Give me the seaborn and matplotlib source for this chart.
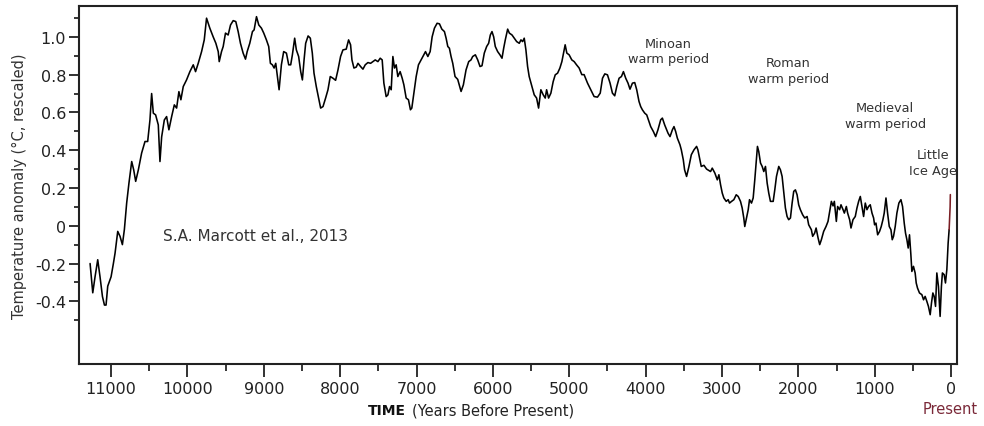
import matplotlib
matplotlib.use("Agg")
import matplotlib.pyplot as plt
import seaborn as sns
import pandas as pd
from matplotlib.ticker import FixedLocator

# ---------------- data (years before present, temperature anomaly) ----------------
years = [
    11275, 11240, 11210, 11175, 11145, 11113, 11087, 11066, 11044, 11000,
    10970, 10948, 10913, 10883, 10852, 10826, 10796, 10766, 10730, 10704,
    10678, 10643, 10600, 10556, 10521, 10491, 10469, 10447, 10417, 10382,
    10360, 10338, 10303, 10273, 10243, 10207, 10172, 10142, 10112, 10086,
    10055, 10012, 9968, 9924, 9894, 9859, 9815, 9780, 9750, 9707,
    9663, 9628, 9597, 9584, 9554, 9532, 9502, 9467, 9436, 9401,
    9367, 9336, 9306, 9271, 9240, 9218, 9184, 9149, 9127, 9096,
    9066, 9031, 9001, 8966, 8936, 8914, 8888, 8865, 8844, 8822,
    8800, 8770, 8740, 8704, 8674, 8648, 8626, 8596, 8574, 8544,
    8517, 8495, 8473, 8452, 8420, 8391, 8365, 8343, 8313, 8282,
    8256, 8225, 8191, 8160, 8130, 8094, 8060, 8029, 7995, 7964,
    7921, 7890, 7864, 7846, 7820, 7790, 7767, 7733, 7702, 7672,
    7637, 7602, 7571, 7541, 7506, 7476, 7450, 7428, 7398, 7375,
    7354, 7332, 7310, 7289, 7267, 7245, 7215, 7188, 7166, 7136,
    7106, 7080, 7062, 7035, 7005, 6975, 6940, 6905, 6883, 6852,
    6822, 6796, 6766, 6731, 6700, 6669, 6635, 6613, 6591, 6570,
    6548, 6526, 6496, 6461, 6417, 6387, 6352, 6317, 6287, 6265,
    6230, 6199, 6169, 6143, 6113, 6082, 6056, 6034, 6012, 5990,
    5969, 5938, 5908, 5881, 5859, 5838, 5807, 5785, 5750, 5720,
    5689, 5655, 5633, 5611, 5590, 5568, 5546, 5525, 5489, 5459,
    5428, 5402, 5372, 5341, 5315, 5297, 5271, 5241, 5211, 5184,
    5153, 5123, 5097, 5075, 5054, 5032, 5002, 4967, 4936, 4905,
    4871, 4836, 4806, 4761, 4718, 4675, 4631, 4595, 4565, 4535,
    4500, 4466, 4435, 4405, 4378, 4348, 4317, 4291, 4261, 4231,
    4205, 4173, 4143, 4117, 4087, 4065, 4043, 4012, 3986, 3964,
    3934, 3899, 3869, 3839, 3803, 3781, 3751, 3725, 3707, 3681,
    3650, 3629, 3607, 3585, 3551, 3533, 3507, 3490, 3464, 3433,
    3402, 3367, 3333, 3316, 3290, 3272, 3237, 3202, 3150, 3128,
    3094, 3062, 3041, 3019, 2997, 2976, 2945, 2919, 2902, 2875,
    2845, 2814, 2788, 2758, 2736, 2715, 2702, 2684, 2657, 2640,
    2614, 2592, 2571, 2549, 2536, 2519, 2496, 2474, 2453, 2431,
    2409, 2388, 2366, 2330, 2309, 2287, 2257, 2235, 2213, 2192,
    2170, 2148, 2127, 2104, 2082, 2061, 2039, 2017, 1996, 1974,
    1944, 1917, 1886, 1865, 1830, 1813, 1787, 1768, 1742, 1721,
    1699, 1669, 1638, 1612, 1594, 1568, 1546, 1529, 1503, 1486,
    1460, 1442, 1415, 1398, 1372, 1355, 1329, 1311, 1285, 1255,
    1233, 1211, 1189, 1167, 1146, 1124, 1102, 1081, 1059, 1036,
    1015, 1002, 984, 962, 937, 915, 893, 876, 853, 832,
    810, 788, 771, 754, 732, 710, 684, 657, 636, 614,
    597, 579, 562, 545, 527, 514, 493, 471, 457, 440,
    414, 383, 361, 340, 318, 297, 274, 257, 239, 222,
    204, 187, 166, 144, 127, 114, 91, 74, 56, 39,
    26,
]
anomaly = [
    -0.20, -0.355, -0.27, -0.18, -0.27, -0.375, -0.42, -0.42, -0.32, -0.27,
    -0.20, -0.145, -0.03, -0.056, -0.10, -0.02, 0.12, 0.226, 0.34, 0.296,
    0.235, 0.296, 0.385, 0.446, 0.446, 0.56, 0.70, 0.596, 0.587, 0.534,
    0.34, 0.47, 0.56, 0.578, 0.508, 0.578, 0.64, 0.623, 0.71, 0.667,
    0.737, 0.772, 0.816, 0.852, 0.816, 0.86, 0.922, 0.984, 1.099, 1.046,
    1.0, 0.966, 0.922, 0.869, 0.922, 0.949, 1.02, 1.01, 1.063, 1.086,
    1.081, 1.028, 0.966, 0.914, 0.882, 0.922, 0.966, 1.028, 1.037, 1.107,
    1.063, 1.046, 1.02, 0.984, 0.949, 0.86, 0.852, 0.835, 0.86, 0.79,
    0.72, 0.852, 0.922, 0.914, 0.852, 0.852, 0.905, 0.993, 0.931, 0.896,
    0.816, 0.772, 0.878, 0.966, 1.005, 0.993, 0.914, 0.808, 0.737, 0.676,
    0.623, 0.631, 0.676, 0.72, 0.79, 0.781, 0.77, 0.825, 0.896, 0.931,
    0.935, 0.984, 0.958, 0.878, 0.835, 0.84, 0.86, 0.843, 0.829, 0.852,
    0.864, 0.86, 0.869, 0.878, 0.869, 0.887, 0.878, 0.755, 0.684, 0.693,
    0.737, 0.72, 0.896, 0.835, 0.852, 0.79, 0.816, 0.781, 0.746, 0.676,
    0.667, 0.614, 0.623, 0.702, 0.79, 0.852, 0.878, 0.905, 0.922, 0.896,
    0.922, 1.0, 1.046, 1.072, 1.069, 1.041, 1.028, 0.993, 0.949, 0.94,
    0.896, 0.86, 0.79, 0.775, 0.711, 0.746, 0.825, 0.869, 0.878, 0.896,
    0.905, 0.878, 0.843, 0.847, 0.914, 0.949, 0.966, 1.01, 1.028, 1.0,
    0.949, 0.922, 0.905, 0.887, 0.94, 0.984, 1.041, 1.02, 1.01, 0.993,
    0.975, 0.966, 0.984, 0.975, 0.993, 0.931, 0.843, 0.79, 0.737, 0.693,
    0.676, 0.623, 0.72, 0.693, 0.676, 0.72, 0.676, 0.702, 0.763, 0.799,
    0.808, 0.835, 0.869, 0.914, 0.958, 0.914, 0.905, 0.878, 0.869, 0.852,
    0.835, 0.80, 0.80, 0.755, 0.72, 0.684, 0.681, 0.702, 0.781, 0.804,
    0.799, 0.755, 0.702, 0.688, 0.737, 0.781, 0.79, 0.816, 0.781, 0.755,
    0.723, 0.755, 0.758, 0.72, 0.658, 0.631, 0.614, 0.596, 0.587, 0.561,
    0.525, 0.499, 0.472, 0.508, 0.561, 0.57, 0.534, 0.508, 0.49, 0.472,
    0.508, 0.525, 0.499, 0.464, 0.429, 0.402, 0.349, 0.296, 0.261, 0.314,
    0.376, 0.402, 0.42, 0.402, 0.349, 0.314, 0.32, 0.30, 0.287, 0.305,
    0.279, 0.243, 0.27, 0.217, 0.173, 0.147, 0.129, 0.138, 0.12, 0.129,
    0.138, 0.164, 0.155, 0.129, 0.094, 0.041, -0.004, 0.032, 0.085, 0.138,
    0.12, 0.147, 0.243, 0.358, 0.42, 0.393, 0.332, 0.314, 0.287, 0.314,
    0.226, 0.173, 0.129, 0.129, 0.19, 0.261, 0.314, 0.296, 0.261, 0.182,
    0.094, 0.049, 0.032, 0.041, 0.12, 0.182, 0.19, 0.164, 0.111, 0.085,
    0.058, 0.041, 0.049, 0.005, -0.021, -0.056, -0.039, -0.012, -0.065, -0.10,
    -0.074, -0.03, -0.004, 0.023, 0.067, 0.129, 0.105, 0.129, 0.023, 0.102,
    0.085, 0.111, 0.085, 0.067, 0.102, 0.067, 0.032, -0.012, 0.032, 0.049,
    0.094, 0.129, 0.155, 0.102, 0.049, 0.12, 0.085, 0.102, 0.111, 0.067,
    0.041, 0.005, 0.014, -0.048, -0.03, -0.004, 0.032, 0.067, 0.147, 0.067,
    -0.004, -0.021, -0.074, -0.056, -0.004, 0.067, 0.12, 0.138, 0.102, 0.014,
    -0.039, -0.074, -0.118, -0.048, -0.153, -0.242, -0.215, -0.25, -0.303, -0.33,
    -0.356, -0.365, -0.392, -0.374, -0.40, -0.427, -0.471, -0.409, -0.356, -0.374,
    -0.427, -0.25, -0.321, -0.48, -0.321, -0.25, -0.259, -0.303, -0.233, -0.092,
    -0.021,
]
# recent instrumental-era uptick drawn in dark red
recent_years = [26, 13, 10]
recent_anomaly = [-0.021, 0.10, 0.165]

x_ticks = [11000, 10000, 9000, 8000, 7000, 6000, 5000, 4000, 3000, 2000, 1000, 0]
x_tick_labels = ["11000", "10000", "9000", "8000", "7000", "6000", "5000",
                 "4000", "3000", "2000", "1000", "0"]
y_ticks = [-0.4, -0.2, 0.0, 0.2, 0.4, 0.6, 0.8, 1.0]
y_tick_labels = ["-0.4", "-0.2", "0", "0.2", "0.4", "0.6", "0.8", "1.0"]

annotations = ["Minoan\nwarm period", "Roman\nwarm period",
               "Medieval\nwarm period", "Little\nIce Age"]
annot_years = [3705, 2134, 864, 236]
annot_values = [0.924, 0.821, 0.583, 0.334]

# ---------------- plotting ----------------
sns.set_style("ticks")
plt.rcParams["font.family"] = ["DejaVu Sans"]

df = pd.DataFrame({"year": years, "anomaly": anomaly})
df_recent = pd.DataFrame({"year": recent_years, "anomaly": recent_anomaly})

fig = plt.figure(figsize=(9.84, 4.27), dpi=100)
ax = fig.add_axes([0.0803, 0.1452, 0.9724 - 0.0803, 0.9843 - 0.1452])

sns.lineplot(data=df, x="year", y="anomaly", ax=ax, color="black",
             linewidth=1.15, sort=False, estimator=None)
sns.lineplot(data=df_recent, x="year", y="anomaly", ax=ax, color="#7a1e24",
             linewidth=1.15, sort=False, estimator=None)

ax.set_xlim(11420, -75)
ax.set_ylim(-0.732, 1.165)

ax.xaxis.set_major_locator(FixedLocator(x_ticks))
ax.set_xticklabels(x_tick_labels)
ax.xaxis.set_minor_locator(FixedLocator([10500, 9500, 8500, 7500, 6500, 5500,
                                         4500, 3500, 2500, 1500, 500]))
ax.yaxis.set_major_locator(FixedLocator(y_ticks))
ax.set_yticklabels(y_tick_labels)
ax.yaxis.set_minor_locator(FixedLocator([-0.5, -0.3, -0.1, 0.1, 0.3, 0.5,
                                         0.7, 0.9, 1.1]))

ax.tick_params(axis="x", which="major", direction="out", length=9.5, width=1.3,
               pad=2.5, labelsize=11.5, colors="#222222")
ax.tick_params(axis="x", which="minor", direction="out", length=4.8, width=1.3)
ax.tick_params(axis="y", which="major", direction="out", length=7.2, width=1.3,
               pad=2, labelsize=11.5, colors="#222222")
ax.tick_params(axis="y", which="minor", direction="out", length=3.6, width=1.3)

for s in ax.spines.values():
    s.set_linewidth(1.5)
    s.set_color("#222222")

ax.set_xlabel("")
ax.set_ylabel("Temperature anomaly (°C, rescaled)", fontsize=10.5,
              color="#333333", labelpad=6)

ax.text(10320, -0.05, "S.A. Marcott et al., 2013", fontsize=11,
        color="#333333", ha="left", va="center")

for t, yr, v in zip(annotations, annot_years, annot_values):
    ax.text(yr, v, t, fontsize=9.3, color="#333333", ha="center", va="center",
            linespacing=1.25)

fig.text(406 / 984, 1 - 411 / 427, "TIME", fontsize=10, fontweight="bold",
         ha="right", va="center", color="#111111",
         family=["Liberation Sans Narrow", "DejaVu Sans"])
fig.text(412 / 984, 1 - 411 / 427, "(Years Before Present)", fontsize=10.5,
         ha="left", va="center", color="#222222",
         family=["Liberation Sans Narrow", "DejaVu Sans"])
fig.text(950 / 984, 1 - 410 / 427, "Present", fontsize=10.5,
         ha="center", va="center", color="#7a2838")

fig.savefig("out.png", dpi=100, facecolor="white")
